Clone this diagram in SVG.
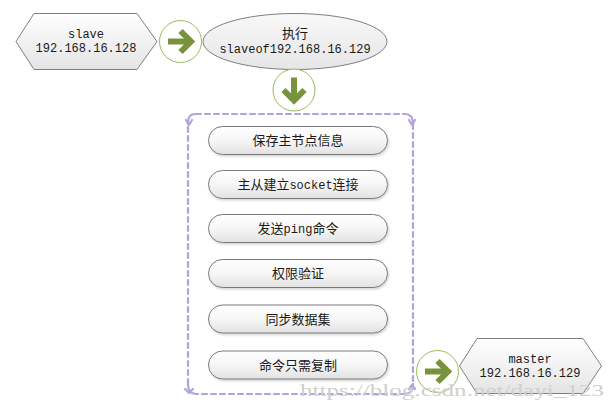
<svg xmlns="http://www.w3.org/2000/svg" width="614" height="411" viewBox="0 0 614 411">
  <defs>
    <linearGradient id="gHex" x1="0" y1="0" x2="0" y2="1">
      <stop offset="0" stop-color="#ffffff"/>
      <stop offset="1" stop-color="#e4e4e4"/>
    </linearGradient>
    <linearGradient id="gPill" x1="0" y1="0" x2="0" y2="1">
      <stop offset="0" stop-color="#ffffff"/>
      <stop offset="0.5" stop-color="#f6f6f6"/>
      <stop offset="1" stop-color="#e2e2e2"/>
    </linearGradient>
    <linearGradient id="gEll" x1="0" y1="0" x2="0" y2="1">
      <stop offset="0" stop-color="#f8f8f8"/>
      <stop offset="1" stop-color="#e6e6e6"/>
    </linearGradient>
    <filter id="soft" x="-10%" y="-20%" width="120%" height="150%">
      <feDropShadow dx="1" dy="1.5" stdDeviation="1.2" flood-color="#000" flood-opacity="0.18"/>
    </filter>
    <!-- green step arrow inside a circle, drawn pointing right around (0,0) -->
    <g id="stepArrow">
      <circle cx="0" cy="0" r="21" fill="#ffffff" stroke="#9bbb59" stroke-width="1"/>
      <path d="M-12.5 0 H9" fill="none" stroke="#77933c" stroke-width="6"/>
      <path d="M0 -10.5 L10.5 0 L0 10.5" fill="none" stroke="#77933c" stroke-width="6" stroke-linejoin="miter"/>
    </g>
  </defs>
  <style>
    .hex { fill: url(#gHex); stroke: #7f7f7f; stroke-width: 1; }
    .pill { fill: url(#gPill); stroke: #7a7a7a; stroke-width: 1; filter: url(#soft); }
    .lbl { font-family: "Liberation Mono", "Noto Sans CJK SC", monospace; font-size: 12px; fill: #1a1a1a; text-anchor: middle; }
    .cjk { font-family: "Noto Sans CJK SC", "Liberation Mono", sans-serif; font-size: 13px; fill: #1a1a1a; text-anchor: middle; }
    .frame { fill: none; stroke: #b3a2dc; stroke-width: 2.2; stroke-dasharray: 5 4; stroke-linecap: round; }
    .hook { fill: none; stroke: #b3a2dc; stroke-width: 2.2; stroke-linecap: round; stroke-linejoin: round; }
    .mark { font-family: "Liberation Serif", serif; font-size: 17px; fill: #cfcfcf; }
  </style>

  <!-- slave host -->
  <g id="slave">
    <polygon class="hex" points="16,41.5 34,13.5 137,13.5 157,41.5 137,69.5 34,69.5"/>
    <text class="lbl" x="86" y="38">slave</text>
    <text class="lbl" x="86" y="52">192.168.16.128</text>
  </g>

  <!-- command issued on the slave -->
  <g id="exec">
    <ellipse cx="295" cy="41.5" rx="92" ry="28" fill="url(#gEll)" stroke="#7f7f7f" stroke-width="1"/>
    <text class="cjk" x="295" y="38">执行</text>
    <text class="lbl" x="295" y="53">slaveof192.168.16.129</text>
  </g>

  <!-- replication steps container -->
  <g id="steps">
    <path class="frame" d="M196 114 H405 M413 124 V384 M405 394 H196 M188 384 V124"/>
    <path class="hook" d="M188 124 C188 118 189 114 196 114 M186 120 L189 125 L192 120"/>
    <path class="hook" d="M405 114 C411 114 413 118 413 124 M409 120 L412 125 L415 120"/>
    <path class="hook" d="M188 384 C188 390 190 394 196 394 M185 389 L189 393 L193 389"/>
    <path class="hook" d="M405 394 C411 394 413 390 413 384 M409 389 L412 385 L415 389"/>
  </g>

  <g id="step1">
    <rect class="pill" x="208.5" y="126.5" width="179" height="28" rx="14"/>
    <text class="cjk" x="298" y="145">保存主节点信息</text>
  </g>
  <g id="step2">
    <rect class="pill" x="208.5" y="170.5" width="179" height="28" rx="14"/>
    <text class="cjk" x="298" y="189">主从建立<tspan style="font-family:'Liberation Mono',monospace;font-size:12px">socket</tspan>连接</text>
  </g>
  <g id="step3">
    <rect class="pill" x="208.5" y="214.5" width="179" height="28" rx="14"/>
    <text class="cjk" x="298" y="233">发送<tspan style="font-family:'Liberation Mono',monospace;font-size:12px">ping</tspan>命令</text>
  </g>
  <g id="step4">
    <rect class="pill" x="208.5" y="259.5" width="179" height="28" rx="14"/>
    <text class="cjk" x="298" y="278">权限验证</text>
  </g>
  <g id="step5">
    <rect class="pill" x="208.5" y="305" width="179" height="28" rx="14"/>
    <text class="cjk" x="298" y="324">同步数据集</text>
  </g>
  <g id="step6">
    <rect class="pill" x="208.5" y="351" width="179" height="28" rx="14"/>
    <text class="cjk" x="298" y="370">命令只需复制</text>
  </g>

  <!-- flow arrows between stages -->
  <g id="connectors">
    <use href="#stepArrow" transform="translate(180.5,41.5)"/>
    <use href="#stepArrow" transform="translate(294,90) rotate(90)"/>
    <use href="#stepArrow" transform="translate(437.5,371.5)"/>
  </g>

  <!-- master host -->
  <g id="master">
    <polygon class="hex" points="459.5,366 477,338.5 583,338.5 601.5,366 583,393.5 477,393.5"/>
    <text class="lbl" x="530" y="363">master</text>
    <text class="lbl" x="530" y="377">192.168.16.129</text>
  </g>

  <text class="mark" x="300" y="396" textLength="304" lengthAdjust="spacingAndGlyphs">https://blog.csdn.net/dayi_123</text>
</svg>
